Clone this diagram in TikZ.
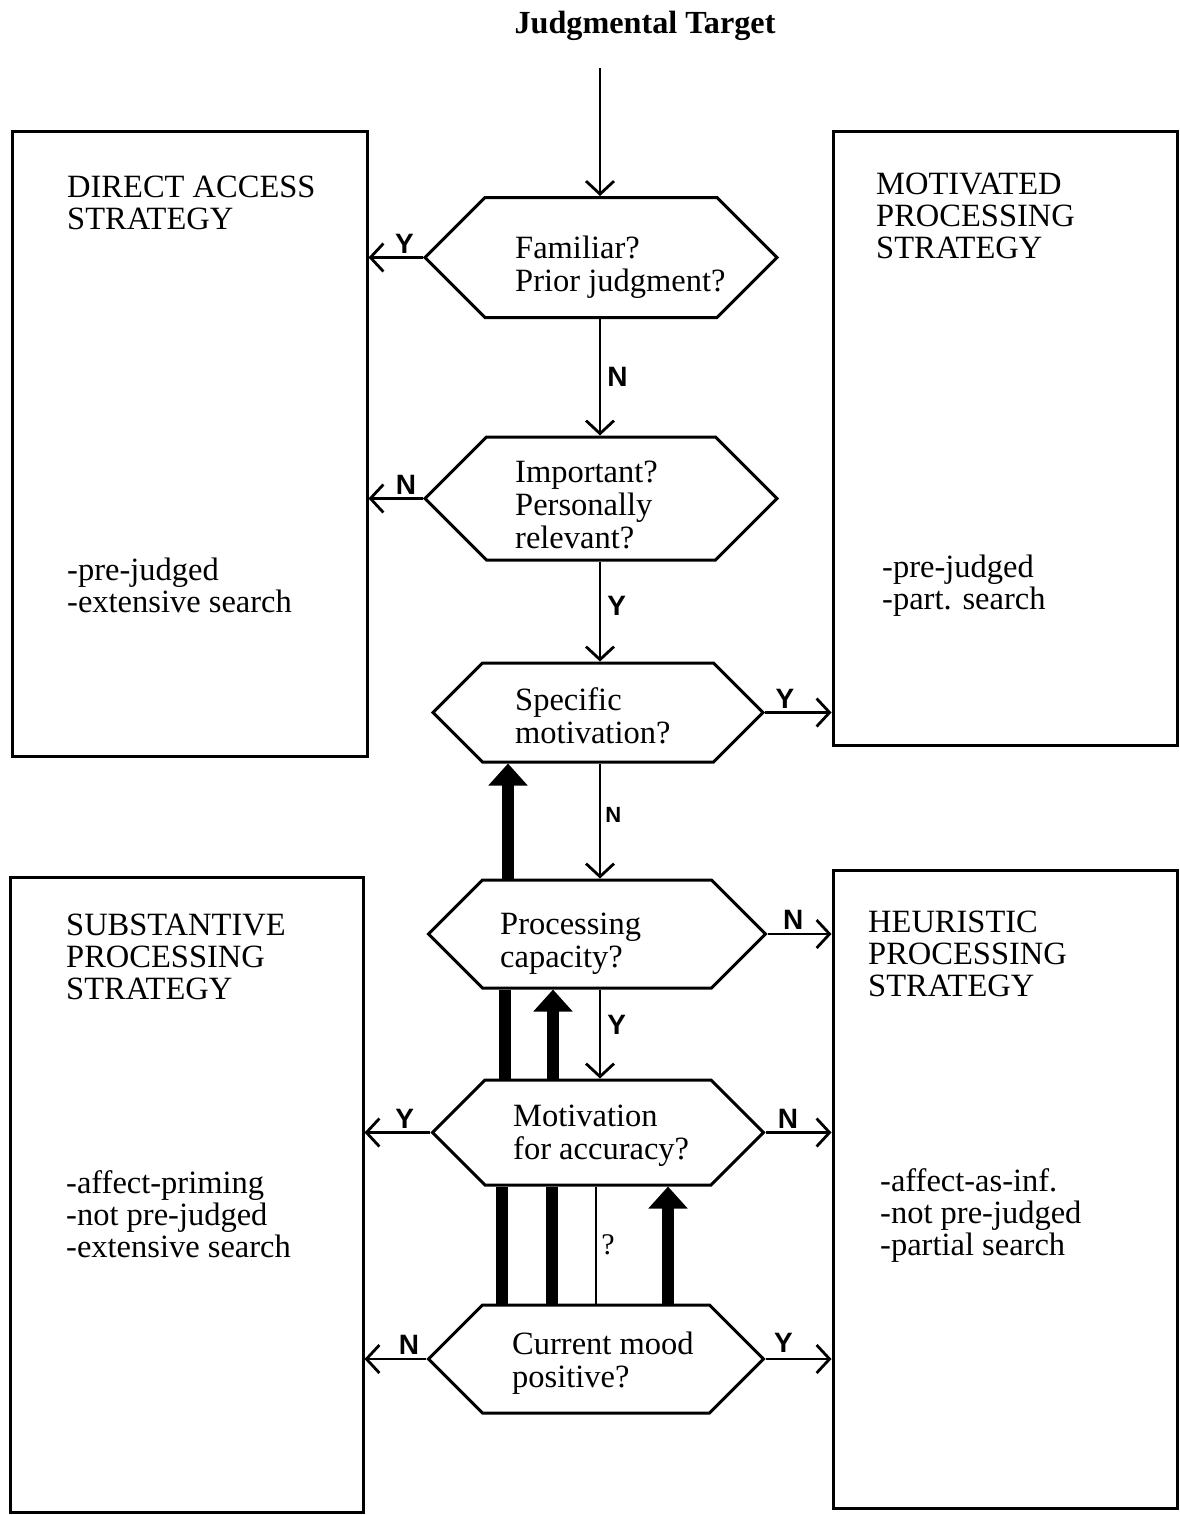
\documentclass[tikz,border=0pt]{standalone}
\usepackage{fontspec}
\setmainfont{Liberation Serif}
\setsansfont{Liberation Sans}
\usetikzlibrary{shapes.symbols,arrows.meta,calc}
\begin{document}
\begin{tikzpicture}[x=1pt,y=-1pt,
  stratbox/.style={draw, line width=3pt, rectangle, inner sep=0pt},
  hexbox/.style={draw, line width=3pt, shape=signal, signal to=east and west,
    signal pointer angle=90, inner sep=0pt},
  boxtext/.style={anchor=north west, inner sep=0pt, align=left,
    font=\fontsize{32.5}{32}\selectfont},
  hextext/.style={anchor=north west, inner sep=0pt, align=left,
    font=\fontsize{32.5}{33}\selectfont},
  arr/.style={line width=2.8pt, -{Straight Barb[length=13pt,width=28pt]}},
  bigarr/.style={line width=12pt, -{Triangle[length=22pt,width=38pt]}},
  bigline/.style={line width=12pt},
  yn/.style={font=\sffamily\bfseries\fontsize{28}{28}\selectfont, inner sep=1pt},
]
\useasboundingbox (0,0) rectangle (1179,1515);

% title
\node[font=\bfseries\fontsize{32.2}{32}\selectfont, anchor=base] (title) at (645,33) {Judgmental Target};
\coordinate (start) at (600,68);

% strategy boxes
\node[stratbox, minimum width=355pt, minimum height=625pt] (da) at (189.5,443.5) {};
\node[stratbox, minimum width=344pt, minimum height=614pt] (mp) at (1005,438) {};
\node[stratbox, minimum width=353pt, minimum height=635pt] (sp) at (186.5,1194.5) {};
\node[stratbox, minimum width=344pt, minimum height=638pt] (hp) at (1005,1189) {};

\node[boxtext] (daT) at (67,176) {DIRECT ACCESS\\STRATEGY};
\node[boxtext] (daL) at (67,558) {-pre-judged\\-extensive search};
\node[boxtext] (mpT) at (876,173) {MOTIVATED\\PROCESSING\\STRATEGY};
\node[boxtext] (mpL) at (882,555) {-pre-judged\\-part. search};
\node[boxtext] (spT) at (66,914) {SUBSTANTIVE\\PROCESSING\\STRATEGY};
\node[boxtext] (spL) at (66,1170) {-affect-priming\\-not pre-judged\\-extensive search};
\node[boxtext] (hpT) at (868,911) {HEURISTIC\\PROCESSING\\STRATEGY};
\node[boxtext] (hpL) at (880,1168) {-affect-as-inf.\\-not pre-judged\\-partial search};

% decision hexagons
\node[hexbox, minimum width=352pt, minimum height=120pt] (h1) at (601,257.5) {};
\node[hexbox, minimum width=352pt, minimum height=123pt] (h2) at (601,498.5) {};
\node[hexbox, minimum width=330pt, minimum height=99pt] (h3) at (598,712.5) {};
\node[hexbox, minimum width=337pt, minimum height=108pt] (h4) at (597,934) {};
\node[hexbox, minimum width=331pt, minimum height=105pt] (h5) at (598,1132.5) {};
\node[hexbox, minimum width=335pt, minimum height=108pt] (h6) at (596,1359) {};

\node[hextext] (h1t) at (515,236) {Familiar?\\Prior judgment?};
\node[hextext] (h2t) at (515,461) {Important?\\Personally\\relevant?};
\node[hextext] (h3t) at (515,687) {Specific\\motivation?};
\node[hextext] (h4t) at (500,913) {Processing\\capacity?};
\node[hextext] (h5t) at (513,1105) {Motivation\\for accuracy?};
\node[hextext] (h6t) at (512,1332) {Current mood\\positive?};

% flow connectors
\draw[arr] (start) -- (start |- h1.north);
\draw[arr] (h1.west) -- node[yn, pos=0.34, above=2pt] {Y} (h1.west -| da.east);
\draw[arr] (600,0 |- h1.south) -- node[yn, pos=0.5, right=5pt] {N} (600,0 |- h2.north);
\draw[arr] (h2.west) -- node[yn, pos=0.31, above=2pt] {N} (h2.west -| da.east);
\draw[arr] (600,0 |- h2.south) -- node[yn, pos=0.44, right=5pt] {Y} (600,0 |- h3.north);
\draw[arr] (h3.east) -- node[yn, pos=0.3, above=2pt] {Y} (h3.east -| mp.west);
\draw[arr] (600,0 |- h3.south) -- node[yn, pos=0.45, right=3pt, font=\sffamily\bfseries\fontsize{22}{22}\selectfont] {N} (600,0 |- h4.north);
\draw[arr] (h4.east) -- node[yn, pos=0.4, above=2pt] {N} (h4.east -| hp.west);
\draw[arr] (600,0 |- h4.south) -- node[yn, pos=0.4, right=5pt] {Y} (600,0 |- h5.north);
\draw[arr] (h5.west) -- node[yn, pos=0.39, above=2pt] {Y} (h5.west -| sp.east);
\draw[arr] (h5.east) -- node[yn, pos=0.34, above=2pt] {N} (h5.east -| hp.west);
\draw[arr] (h6.west) -- node[yn, pos=0.28, above=2pt] {N} (h6.west -| sp.east);
\draw[arr] (h6.east) -- node[yn, pos=0.27, above=4pt] {Y} (h6.east -| hp.west);

% mood influence lines
\draw[bigarr] (508,0 |- h4.north) -- (508,0 |- h3.south);
\draw[bigline] (505,0 |- h5.north) -- (505,0 |- h4.south);
\draw[bigarr] (553,0 |- h5.north) -- (553,0 |- h4.south);
\draw[bigline] (502,0 |- h6.north) -- (502,0 |- h5.south);
\draw[bigline] (552,0 |- h6.north) -- (552,0 |- h5.south);
\draw[line width=2.8pt] (596,0 |- h6.north) -- node[pos=0.5, right=4pt, font=\fontsize{30}{30}\selectfont, inner sep=0pt] {?} (596,0 |- h5.south);
\draw[bigarr] (668,0 |- h6.north) -- (668,0 |- h5.south);
\end{tikzpicture}
\end{document}
